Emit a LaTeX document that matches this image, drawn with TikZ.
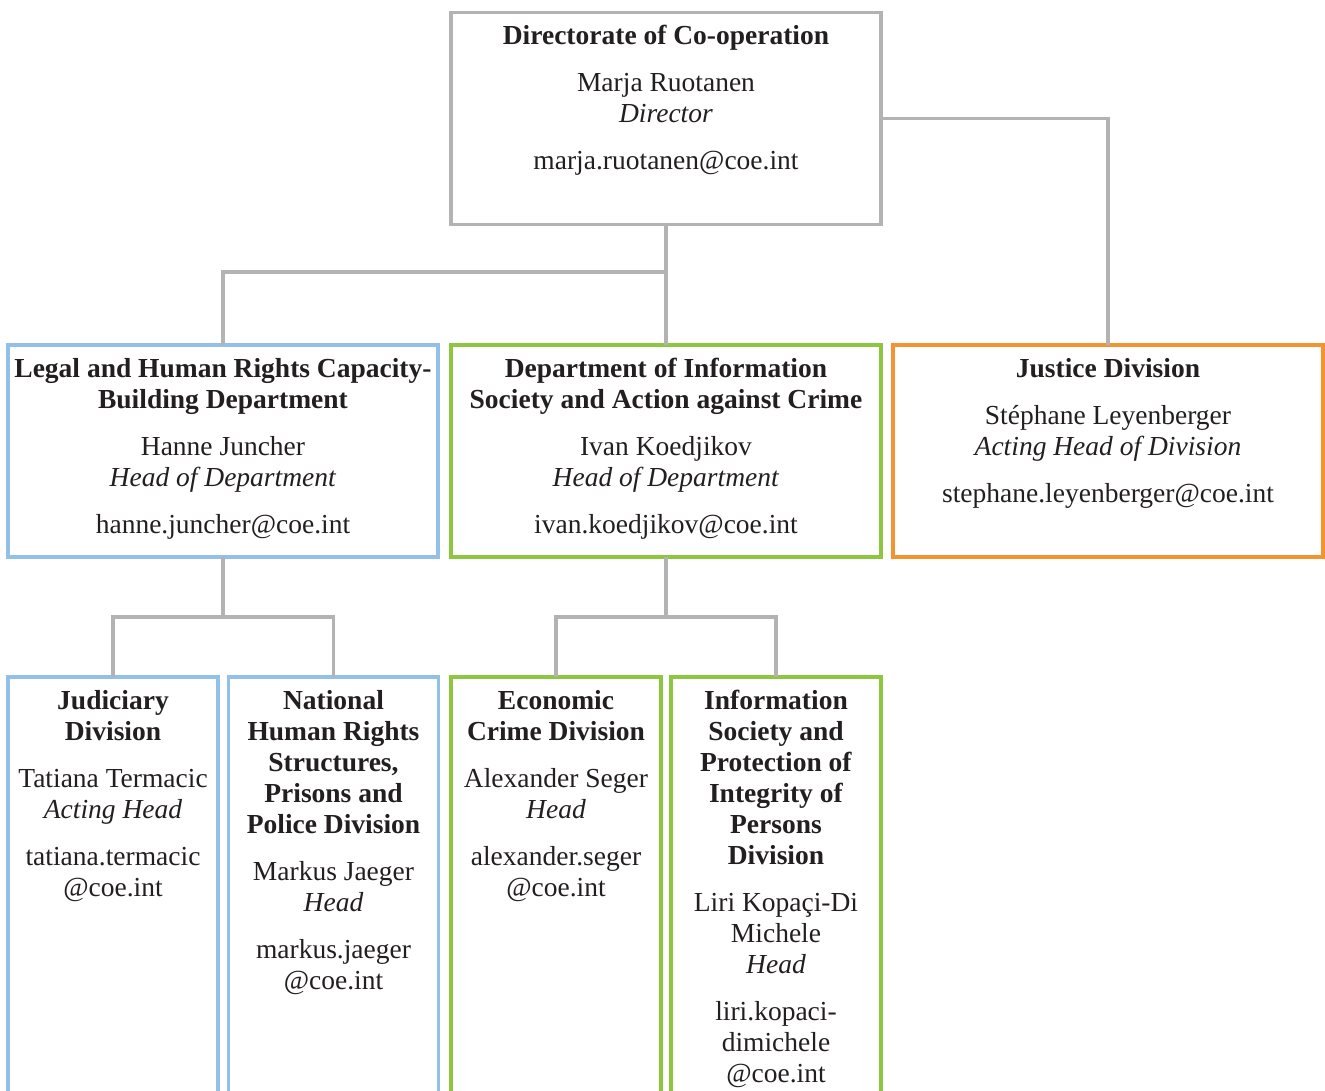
\documentclass[tikz,border=0pt]{standalone}
\usepackage{fontspec}
\setmainfont{Liberation Serif}
\definecolor{lgray}{HTML}{B3B3B3}
\definecolor{lblue}{HTML}{92C0E8}
\definecolor{lgreen}{HTML}{8DC63F}
\definecolor{lorange}{HTML}{F39430}
\definecolor{ink}{HTML}{231F20}
\tikzset{
  box/.style={draw, line width=3.5pt, inner sep=0pt, outer sep=0pt, fill=white},
  bigbox/.style={box, minimum width=430pt, minimum height=212pt},
  colbox/.style={box, minimum width=210pt, minimum height=424pt},
  conn/.style={draw=lgray, line width=3.5pt},
  txt/.style={anchor=north, inner sep=0pt, align=center, text=ink,
    font=\fontsize{27.5}{31}\selectfont},
}
\newcommand{\fs}{\rule{0pt}{22pt}}
\begin{document}
\begin{tikzpicture}[x=1pt,y=-1pt]
\useasboundingbox (0,0) rectangle (1325,1091);
\clip (0,0) rectangle (1325,1091);
\fill[white] (0,0) rectangle (1325,1091);

% boxes
\node[bigbox, draw=lgray] (top) at (666,118.5) {};
\node[bigbox, draw=lblue] (legal) at (223,451) {};
\node[bigbox, draw=lgreen] (mid) at (666,451) {};
\node[bigbox, draw=lorange] (just) at (1108,451) {};
\node[colbox, draw=lblue] (jud) at (113,889) {};
\node[colbox, draw=lblue] (nat) at (333.5,889) {};
\node[colbox, draw=lgreen] (econ) at (556,889) {};
\node[colbox, draw=lgreen] (info) at (776,889) {};

% connectors
\coordinate (a1) at (666,272);
\coordinate (b1) at (223,617);
\coordinate (b2) at (666,617);
\draw[conn] (top.south) -- (mid.north);
\draw[conn] (a1) -| (legal.north);
\draw[conn] (top.east) -| (just.north);
\draw[conn] (legal.south) -- (b1);
\draw[conn] (jud.north) |- (b1) -| (nat.north);
\draw[conn] (mid.south) -- (b2);
\draw[conn] (econ.north) |- (b2) -| (info.north);

% texts
\node[txt] (ttop) at (666,22) {\fs\textbf{Directorate of Co-operation}\\[16pt]
  Marja Ruotanen\\ \textit{Director}\\[16pt] marja.ruotanen@coe.int};
\node[txt] (tlegal) at (223,355) {\fs\textbf{Legal and Human Rights Capacity-}\\
  \textbf{Building Department}\\[16pt]
  Hanne Juncher\\ \textit{Head of Department}\\[16pt] hanne.juncher@coe.int};
\node[txt] (tmid) at (666,355) {\fs\textbf{Department of Information}\\
  \textbf{Society and Action against Crime}\\[16pt]
  Ivan Koedjikov\\ \textit{Head of Department}\\[16pt] ivan.koedjikov@coe.int};
\node[txt] (tjust) at (1108,355) {\fs\textbf{Justice Division}\\[16pt]
  Stéphane Leyenberger\\ \textit{Acting Head of Division}\\[16pt] stephane.leyenberger@coe.int};
\node[txt] (tjud) at (113,687) {\fs\textbf{Judiciary}\\ \textbf{Division}\\[16pt]
  Tatiana Termacic\\ \textit{Acting Head}\\[16pt] tatiana.termacic\\ @coe.int};
\node[txt] (tnat) at (333.5,687) {\fs\textbf{National}\\ \textbf{Human Rights}\\
  \textbf{Structures,}\\ \textbf{Prisons and}\\ \textbf{Police Division}\\[16pt]
  Markus Jaeger\\ \textit{Head}\\[16pt] markus.jaeger\\ @coe.int};
\node[txt] (tecon) at (556,687) {\fs\textbf{Economic}\\ \textbf{Crime Division}\\[16pt]
  Alexander Seger\\ \textit{Head}\\[16pt] alexander.seger\\ @coe.int};
\node[txt] (tinfo) at (776,687) {\fs\textbf{Information}\\ \textbf{Society and}\\
  \textbf{Protection of}\\ \textbf{Integrity of}\\ \textbf{Persons}\\ \textbf{Division}\\[16pt]
  Liri Kopaçi-Di\\ Michele\\ \textit{Head}\\[16pt] liri.kopaci-\\ dimichele\\ @coe.int};
\end{tikzpicture}
\end{document}
